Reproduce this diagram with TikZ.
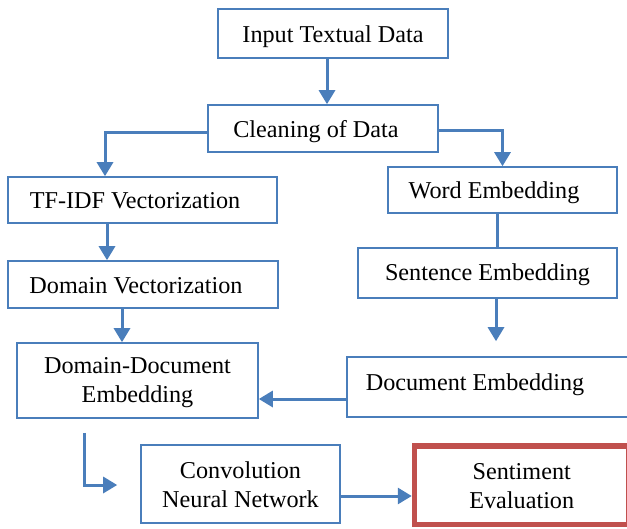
\documentclass[tikz,border=0pt]{standalone}
\usepackage{fontspec}
\setmainfont{Liberation Serif}
\usetikzlibrary{arrows.meta,calc}

\definecolor{boxblue}{HTML}{4A7EBB}
\definecolor{arrblue}{HTML}{4A7EBB}
\definecolor{evalred}{HTML}{C0504D}

\tikzset{
  box/.style={draw=boxblue, line width=1.6pt, fill=white, inner sep=0pt},
  redbox/.style={draw=evalred, line width=5.5pt, fill=white, inner sep=0pt},
  txtbase/.style={font=\fontsize{24.2}{29}\selectfont, align=center, inner sep=0pt},
  txt/.style={txtbase, text height=16.5pt, text depth=5pt},
  arr/.style={draw=arrblue, line width=3pt, -{Triangle[length=14pt,width=16pt]}},
  plain/.style={draw=arrblue, line width=3pt},
}

\begin{document}
\begin{tikzpicture}[x=1pt, y=-1pt]
  \useasboundingbox (0,0) rectangle (627,528);

  % boxes with their captions
  \node[box, minimum width=230pt, minimum height=49pt,
        label={[txt, yshift=-3pt]center:Input Textual Data}] (inp) at (333,33.5) {};
  \node[box, minimum width=230pt, minimum height=47pt,
        label={[txt, xshift=-7pt, yshift=-3pt]center:Cleaning of Data}] (cln) at (323,128.5) {};
  \node[box, minimum width=269pt, minimum height=46pt,
        label={[txt, xshift=-7.5pt, yshift=-2.5pt]center:TF-IDF Vectorization}] (tf) at (142.5,200) {};
  \node[box, minimum width=270pt, minimum height=47pt,
        label={[txt, xshift=-7pt, yshift=-3pt]center:Domain Vectorization}] (dv) at (143,284.5) {};
  \node[box, minimum width=229pt, minimum height=46pt,
        label={[txt, xshift=-8.5pt, yshift=-2.5pt]center:Word Embedding}] (word) at (502.5,190) {};
  \node[box, minimum width=259pt, minimum height=50pt,
        label={[txt, yshift=-1.5pt]center:Sentence Embedding}] (sent) at (487.5,273) {};
  \node[box, minimum width=282pt, minimum height=60pt,
        label={[txt, xshift=-13pt, yshift=2.5pt]center:Document Embedding}] (doc) at (488,387) {};
  \node[box, minimum width=241pt, minimum height=75pt,
        label={[txtbase, yshift=-2.5pt]center:Domain-Document\\Embedding}] (dd) at (137.5,380.5) {};
  \node[box, minimum width=199pt, minimum height=78pt,
        label={[txtbase, yshift=-0.5pt]center:Convolution\\Neural Network}] (cnn) at (240.5,484) {};
  \node[redbox, minimum width=214.5pt, minimum height=78.5pt,
        label={[txtbase, yshift=-1pt]center:Sentiment\\Evaluation}] (sev) at (521.75,485.25) {};

  % connectors
  \draw[arr] ([xshift=-6pt]inp.south) -- ([xshift=-6pt]inp.south |- cln.north);
  \draw[arr] ([yshift=-3.5pt]cln.west) -| ([xshift=-37.5pt]tf.north);
  \draw[arr] ([yshift=-1.5pt]cln.east) -| (word.north);
  \draw[arr] ([xshift=-35.5pt]tf.south) -- ([xshift=-35.5pt]tf.south |- dv.north);
  \draw[arr] ([xshift=-21pt]dv.south) -- ([xshift=-21pt]dv.south |- dd.north);
  \draw[plain] ([xshift=-5.5pt]word.south) -- ([xshift=-5.5pt]word.south |- sent.north);
  \draw[arr, shorten >=15pt] ([xshift=8.5pt]sent.south) -- ([xshift=8.5pt]sent.south |- doc.north);
  \draw[arr] ([yshift=-12pt]doc.west) -- ([yshift=-12pt]doc.west -| dd.east);
  \draw[arr, shorten <=14pt, shorten >=23pt] ([xshift=-53.5pt]dd.south) |- ([yshift=-1pt]cnn.west);
  \draw[arr] ([yshift=-12pt]cnn.east) -- ([yshift=-12pt]cnn.east -| sev.west);
\end{tikzpicture}
\end{document}
